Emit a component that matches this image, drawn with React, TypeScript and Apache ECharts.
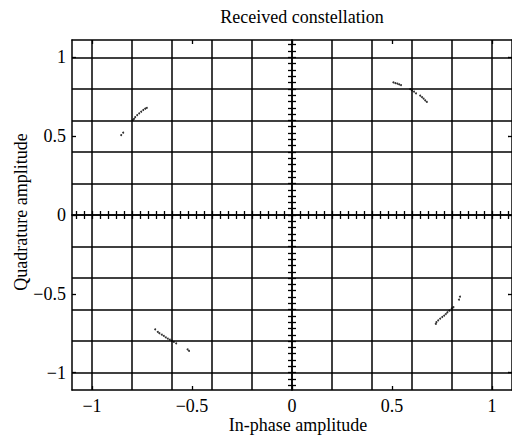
import React, { useEffect, useRef } from "react";
import * as echarts from "echarts";

// Tick labels / major ticks
const majorTicks = [-1, -0.5, 0, 0.5, 1];
// Grid lines (every 0.2)
const gridX = [-1, -0.8, -0.6, -0.4, -0.2, 0.2, 0.4, 0.6, 0.8, 1];
const gridY = [-1, -0.8, -0.6, -0.4, -0.2, 0.2, 0.4, 0.6, 0.8, 1];
// Minor ticks on the centre cross axes (every 0.04 from -1.08 to 1.08)
const centerTicks: number[] = [];
for (let k = -27; k <= 27; k++) centerTicks.push(Math.round(k * 4) / 100);

// Received constellation points [in-phase, quadrature]
const cluster1 = [
  [-0.854, 0.507], [-0.844, 0.522], [-0.796, 0.602], [-0.79, 0.61], [-0.784, 0.621],
  [-0.774, 0.634], [-0.764, 0.645], [-0.754, 0.655], [-0.744, 0.666], [-0.734, 0.674], [-0.726, 0.68],
];
const cluster2 = [
  [0.507, 0.841], [0.517, 0.837], [0.527, 0.833], [0.536, 0.829], [0.545, 0.824],
  [0.591, 0.799], [0.6, 0.791], [0.61, 0.782], [0.62, 0.772], [0.641, 0.757],
  [0.65, 0.748], [0.658, 0.738], [0.666, 0.727], [0.674, 0.717],
];
const cluster3 = [
  [-0.684, -0.725], [-0.671, -0.742], [-0.663, -0.75], [-0.651, -0.759], [-0.641, -0.767],
  [-0.631, -0.776], [-0.621, -0.784], [-0.611, -0.791], [-0.601, -0.797], [-0.591, -0.805],
  [-0.579, -0.814], [-0.522, -0.852], [-0.515, -0.862],
];
const cluster4 = [
  [0.84, -0.518], [0.835, -0.537], [0.807, -0.585], [0.799, -0.592], [0.787, -0.607],
  [0.777, -0.617], [0.769, -0.628], [0.761, -0.638], [0.751, -0.647], [0.741, -0.657],
  [0.731, -0.668], [0.722, -0.68], [0.719, -0.691],
];
const points = [...cluster1, ...cluster2, ...cluster3, ...cluster4];

const FONT = "'Liberation Serif', 'Times New Roman', Times, serif";
const FS = 18;
const LINE = { color: "#000", width: 1.5 };
const TICK = { color: "#000", width: 1.3 };
const fmt = (v: number) => (v < 0 ? "\u2212" + Math.abs(v) : String(v));
const textStyle = { fontFamily: FONT, fontSize: FS, fill: "#000", textAlign: "center", textVerticalAlign: "middle" };

export default function App() {
  const ref = useRef<HTMLDivElement>(null);
  useEffect(() => {
    const chart = echarts.init(ref.current!, null, { renderer: "svg" });
    const mainX = (position: string, labels: boolean) => ({
      type: "value",
      position,
      min: -1.1,
      max: 1.1,
      axisLine: { show: true, onZero: false, lineStyle: LINE },
      axisTick: { show: true, inside: true, length: 4, customValues: majorTicks, lineStyle: TICK },
      axisLabel: {
        show: labels,
        customValues: majorTicks,
        formatter: fmt,
        fontFamily: FONT,
        fontSize: FS,
        color: "#000",
        margin: 7,
      },
      splitLine: { show: false },
    });
    const mainY = (position: string, labels: boolean) => ({
      type: "value",
      position,
      min: -1.11,
      max: 1.11,
      axisLine: { show: true, onZero: false, lineStyle: LINE },
      axisTick: { show: true, inside: true, length: 4, customValues: majorTicks, lineStyle: TICK },
      axisLabel: {
        show: labels,
        customValues: majorTicks,
        formatter: fmt,
        fontFamily: FONT,
        fontSize: FS,
        color: "#000",
        margin: 6,
      },
      splitLine: { show: false },
    });
    const centerX = (inside: boolean) => ({
      type: "value",
      position: "bottom",
      min: -1.1,
      max: 1.1,
      axisLine: { show: true, onZero: true, onZeroAxisIndex: 0, lineStyle: LINE },
      axisTick: { show: true, inside, length: 4, customValues: centerTicks, lineStyle: TICK },
      axisLabel: { show: false },
      splitLine: { show: false },
    });
    const centerY = (inside: boolean) => ({
      type: "value",
      position: "left",
      min: -1.11,
      max: 1.11,
      axisLine: { show: true, onZero: true, onZeroAxisIndex: 0, lineStyle: LINE },
      axisTick: { show: true, inside, length: 4, customValues: centerTicks, lineStyle: TICK },
      axisLabel: { show: false },
      splitLine: { show: false },
    });
    chart.setOption({
      animation: false,
      backgroundColor: "#fff",
      grid: { left: 72, top: 40, width: 442, height: 350, containLabel: false },
      xAxis: [mainX("bottom", true), mainX("top", false), centerX(true), centerX(false)],
      yAxis: [mainY("left", true), mainY("right", false), centerY(true), centerY(false)],
      graphic: [
        { type: "text", x: 302, y: 17, style: { ...textStyle, text: "Received constellation" } },
        { type: "text", x: 298, y: 425, style: { ...textStyle, text: "In-phase amplitude" } },
        { type: "text", x: 21, y: 212, rotation: Math.PI / 2, style: { ...textStyle, text: "Quadrature amplitude" } },
      ],
      series: [
        {
          type: "scatter",
          xAxisIndex: 0,
          yAxisIndex: 0,
          data: points,
          symbol: "circle",
          symbolSize: 2,
          itemStyle: { color: "#000" },
          markLine: {
            silent: true,
            symbol: "none",
            label: { show: false },
            lineStyle: { type: "solid", color: "#000", width: 1.5 },
            data: [...gridX.map((v) => ({ xAxis: v })), ...gridY.map((v) => ({ yAxis: v }))],
          },
        },
      ],
    });
    return () => chart.dispose();
  }, []);
  return <div ref={ref} style={{ position: "absolute", left: 0, top: 0, width: 512, height: 437 }} />;
}
